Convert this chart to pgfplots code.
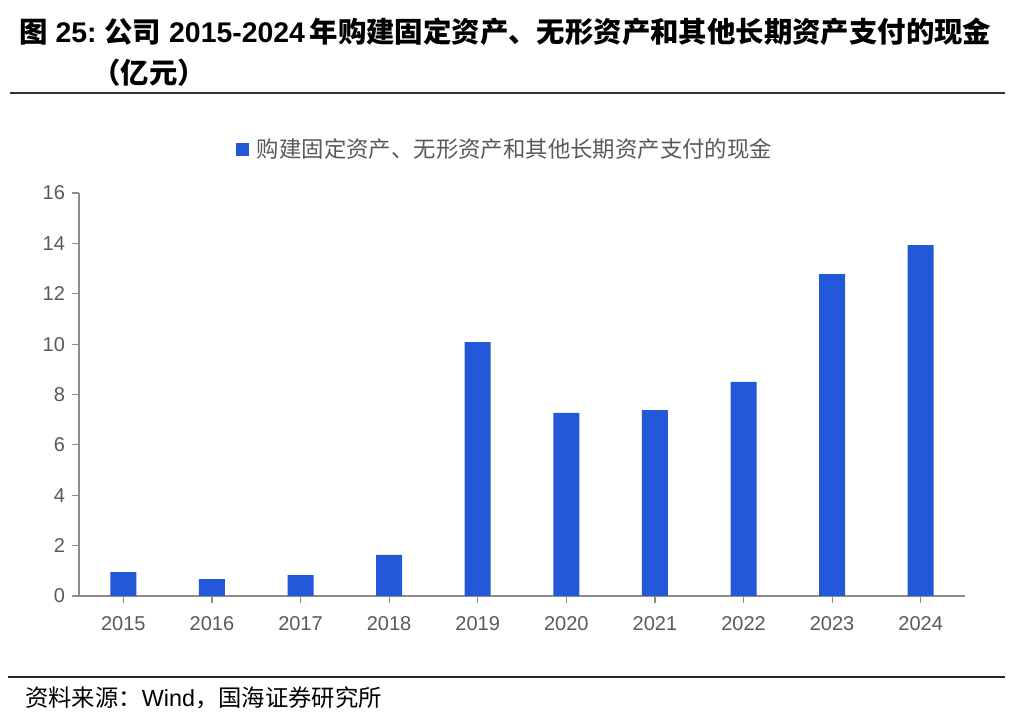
\documentclass[border=0pt]{standalone}
\usepackage{pgfplots}
\pgfplotsset{compat=1.18}
\usepackage{fontspec}
\setmainfont{Liberation Sans}
\newfontfamily\cjk{Noto Sans CJK SC}
\definecolor{barblue}{HTML}{2358D8}
\definecolor{axgray}{HTML}{8C8C8C}
\definecolor{txtgray}{HTML}{595959}
\begin{document}
\begin{tikzpicture}
\begin{scope}[x=0.75pt,y=0.75pt]
\path[use as bounding box] (0,0) rectangle (1022,728);
% title
\node[anchor=west,inner sep=0pt,font=\fontsize{21.3}{24}\selectfont\bfseries] at (19,728-32)
  {{\cjk 图} 25:\ {\cjk 公司} 2015-2024\,{\cjk 年购建固定资产、无形资产和其他长期资产支付的现金}};
\node[anchor=west,inner sep=0pt,font=\fontsize{21.3}{24}\selectfont\bfseries] at (92,728-73)
  {\cjk （亿元）};
\draw[line width=1.3pt,color=black!80] (10,728-93) -- (1005,728-93);
% source
\draw[line width=1.1pt,color=black!85] (8,728-677) -- (1005,728-677);
\node[anchor=west,inner sep=0pt,font=\fontsize{17.5}{20}\selectfont] at (25,728-698)
  {{\cjk 资料来源：}Wind{\cjk ，国海证券研究所}};
\end{scope}
\begin{axis}[
  at={(59.25pt,99pt)}, anchor=south west,
  scale only axis,
  width=664.5pt, height=302.25pt,
  xmin=-0.5, xmax=9.5, ymin=0, ymax=16,
  ybar, bar width=19.5pt,
  xtick={0,...,9},
  xticklabels={2015,2016,2017,2018,2019,2020,2021,2022,2023,2024},
  ytick={0,2,...,16},
  axis lines*=left,
  axis line style={color=axgray, line width=1pt},
  tick align=outside,
  major tick length=5pt,
  tick style={color=axgray, line width=0.9pt},
  xtick pos=bottom, ytick pos=left,
  tick label style={color=txtgray, font=\fontsize{15}{17}\selectfont},
  /pgf/number format/assume math mode=true,
  xticklabel style={yshift=-6.5pt},
  yticklabel style={xshift=-2pt},
  legend style={at={(0.481,1.109)}, anchor=center, draw=none, fill=none,
    font=\cjk\fontsize{16.8}{19}\selectfont\color{txtgray},
    legend cell align=left},
  legend image code/.code={\fill[barblue] (0pt,-4.9pt) rectangle (9.75pt,4.9pt);
    \path (14pt,0pt);},
]
\addplot[fill=barblue, draw=none] coordinates {
  (0,0.95) (1,0.67) (2,0.83) (3,1.63) (4,10.08)
  (5,7.27) (6,7.38) (7,8.50) (8,12.78) (9,13.93)
};
\addlegendentry{购建固定资产、无形资产和其他长期资产支付的现金}
\end{axis}
\end{tikzpicture}
\end{document}
